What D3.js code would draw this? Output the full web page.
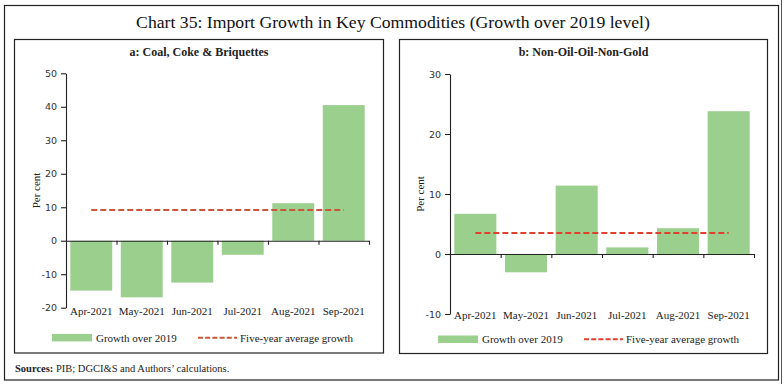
<!DOCTYPE html>
<html><head><meta charset="utf-8">
<script src="https://cdn.jsdelivr.net/npm/d3@7"></script>
<style>body{margin:0;background:#fff}svg{display:block}</style>
</head><body>
<svg id="c" width="784" height="384"></svg>
<script>
const categories = ['Apr-2021','May-2021','Jun-2021','Jul-2021','Aug-2021','Sep-2021'];
const coalGrowth = [-14.9, -16.9, -12.5, -4.2, 11.2, 40.5];
const coalAvg = 9.2;
const coalTicks = [-20,-10,0,10,20,30,40,50];
const nonOilGrowth = [6.7, -3.05, 11.4, 1.1, 4.3, 23.8];
const nonOilAvg = 3.5;
const nonOilTicks = [-10,0,10,20,30];
const seriesNames = ['Growth over 2019','Five-year average growth'];
const title = 'Chart 35: Import Growth in Key Commodities (Growth over 2019 level)';

const svg = d3.select('#c');
const serif = "'Liberation Serif', 'Times New Roman', serif";
const sans = "'DejaVu Sans', Verdana, sans-serif";
const green = '#9acf8e';

// outer frame
svg.append('rect').attr('x',4.5).attr('y',5.5).attr('width',774).attr('height',374.5)
  .attr('fill','none').attr('stroke','#222').attr('stroke-width',1.2);
svg.append('line').attr('x1',781.5).attr('x2',781.5).attr('y1',0).attr('y2',384)
  .attr('stroke','#555').attr('stroke-width',1);

svg.append('text').attr('x',393).attr('y',28).attr('text-anchor','middle')
  .attr('font-family',serif).attr('font-size',17.7).attr('fill','#111').text(title);

svg.append('text').attr('x',15).attr('y',372).attr('font-family',serif).attr('font-size',10.5).attr('fill','#222')
  .call(t=>{t.append('tspan').attr('font-weight','bold').text('Sources:');
            t.append('tspan').text(' PIB; DGCI&S and Authors\u2019 calculations.');});

const panels = [
  {box:[14.5,39.5,369,313.5], sub:'a: Coal, Coke & Briquettes', vals:coalGrowth, avg:coalAvg, ticks:coalTicks,
   dom:[-20,50], yr:[307.7,73.3], xr:[66,369], labY:321, legY:337.7, legX:52, dash:'#c9553a', pcX:36},
  {box:[399.5,39.5,368,314], sub:'b: Non-Oil-Oil-Non-Gold', vals:nonOilGrowth, avg:nonOilAvg, ticks:nonOilTicks,
   dom:[-10,30], yr:[314,74], xr:[450,754], labY:325, legY:339.3, legX:438, dash:'#e0402d', pcX:420}
];

panels.forEach(p=>{
  const g = svg.append('g');
  g.append('rect').attr('x',p.box[0]).attr('y',p.box[1]).attr('width',p.box[2]).attr('height',p.box[3])
    .attr('fill','none').attr('stroke','#222').attr('stroke-width',1.2);
  const cx = p.box[0]+p.box[2]/2;
  g.append('text').attr('x',cx).attr('y',56).attr('text-anchor','middle').attr('font-family',serif)
    .attr('font-size',12).attr('font-weight','bold').attr('fill','#222').text(p.sub);

  const x = d3.scaleBand().domain(categories).range(p.xr).paddingInner(0.17).paddingOuter(0.085);
  const xb = d3.scaleBand().domain(categories).range(p.xr);
  const y = d3.scaleLinear().domain(p.dom).range(p.yr);

  g.selectAll('rect.bar').data(p.vals).join('rect').attr('class','bar')
    .attr('x',(d,i)=>x(categories[i])).attr('width',x.bandwidth())
    .attr('y',d=>y(Math.max(0,d))).attr('height',d=>Math.abs(y(d)-y(0)))
    .attr('fill',green);

  // y axis
  const ya = g.append('g').attr('transform',`translate(${p.xr[0]},0)`)
    .call(d3.axisLeft(y).tickValues(p.ticks).tickSize(5).tickSizeOuter(0).tickFormat(d=>String(d)));
  ya.selectAll('path,line').attr('stroke','#222').attr('stroke-width',1.1);
  ya.selectAll('text').attr('font-family',sans).attr('font-size',9.5).attr('fill','#333').attr('dx','-1');

  // zero axis with boundary ticks
  const bounds = categories.map(c=>xb(c)).concat([p.xr[1]]);
  const lin = d3.scaleLinear().domain(p.xr).range(p.xr);
  const xa = g.append('g').attr('transform',`translate(0,${y(0)})`)
    .call(d3.axisBottom(lin).tickValues(bounds.slice(1)).tickSize(4).tickSizeOuter(0).tickFormat(''));
  xa.selectAll('path,line').attr('stroke','#222').attr('stroke-width',1.1);

  // category labels
  const la = g.append('g').attr('transform',`translate(0,${p.labY-9})`)
    .call(d3.axisBottom(xb).tickSize(0));
  la.select('.domain').remove();
  la.selectAll('text').attr('font-family',serif).attr('font-size',11).attr('fill','#222').attr('dy','0');

  // average line
  const first = categories[0], last = categories[categories.length-1];
  g.append('line').attr('x1',xb(first)+xb.bandwidth()/2).attr('x2',xb(last)+xb.bandwidth()/2)
    .attr('y1',y(p.avg)).attr('y2',y(p.avg))
    .attr('stroke',p.dash).attr('stroke-width',2).attr('stroke-dasharray','6,3');

  g.append('text').attr('transform',`translate(${p.pcX},${(p.yr[0]+p.yr[1])/2}) rotate(-90)`)
    .attr('text-anchor','middle').attr('dy','0.35em').attr('font-family',serif).attr('font-size',11)
    .attr('fill','#222').text('Per cent');

  // legend
  const lg = g.append('g').attr('transform',`translate(${p.legX},${p.legY})`);
  lg.append('rect').attr('x',0).attr('y',-3.8).attr('width',40).attr('height',7.5).attr('fill',green);
  lg.append('text').attr('x',44).attr('y',0).attr('dy','0.35em').attr('font-family',serif).attr('font-size',11)
    .attr('fill','#222').text(seriesNames[0]);
  lg.append('line').attr('x1',146).attr('x2',185).attr('y1',0).attr('y2',0)
    .attr('stroke',p.dash).attr('stroke-width',2).attr('stroke-dasharray','5,2.2');
  lg.append('text').attr('x',188).attr('y',0).attr('dy','0.35em').attr('font-family',serif).attr('font-size',11)
    .attr('fill','#222').text(seriesNames[1]);
});
</script>
</body></html>
